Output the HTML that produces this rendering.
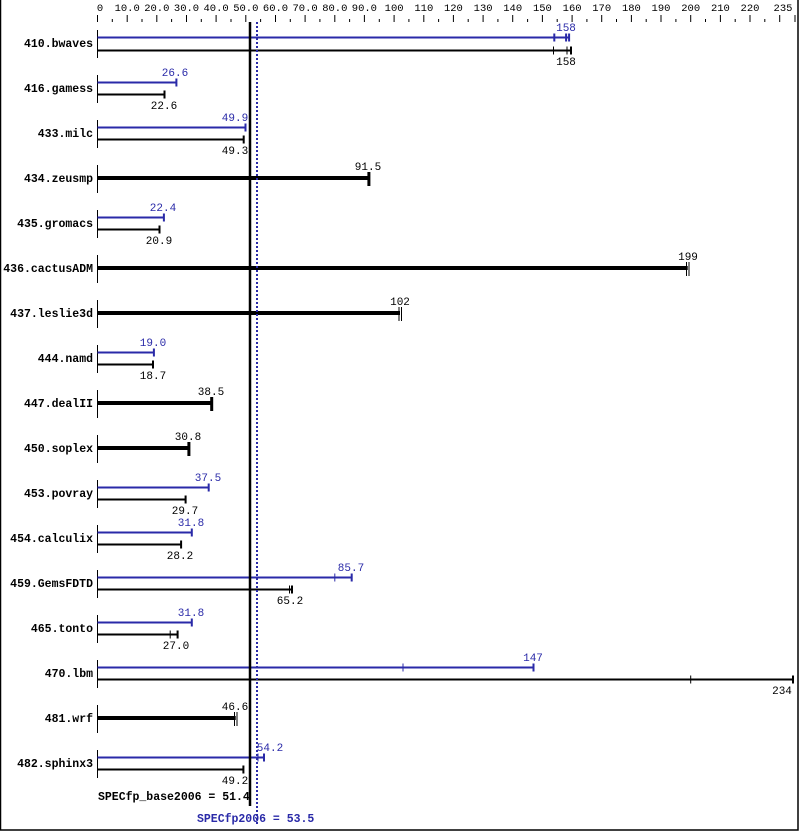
<!DOCTYPE html>
<html><head><meta charset="utf-8"><style>
html,body{margin:0;padding:0;background:#fff}
svg{display:block}
text{font-family:"Liberation Mono","DejaVu Sans Mono",monospace}
.t{font-size:10.5px;fill:#000}
.l{font-size:11.5px;font-weight:bold;fill:#000;text-anchor:end}
.v{font-size:11px;fill:#000;text-anchor:middle}
.b{font-size:11px;fill:#2a2aa8;text-anchor:middle}
</style></head><body>
<svg width="799" height="831" viewBox="0 0 799 831" xmlns="http://www.w3.org/2000/svg">
<rect x="0.5" y="-1" width="797.5" height="831" fill="none" stroke="#000" stroke-width="1.5"/>
<!-- axis ticks -->
<g stroke="#000" stroke-width="1">
<path d="M97.5 15V22M127.2 15V22M156.8 15V22M186.5 15V22M216.1 15V22M245.8 15V22M275.5 15V22M305.1 15V22M334.8 15V22M364.4 15V22M394.1 15V22M423.8 15V22M453.4 15V22M483.1 15V22M512.7 15V22M542.4 15V22M572.1 15V22M601.7 15V22M631.4 15V22M661 15V22M690.7 15V22M720.4 15V22M750 15V22M779.7 15V22M795 15V22"/>
<path d="M112.3 19V22M142 19V22M171.6 19V22M201.3 19V22M231 19V22M260.6 19V22M290.3 19V22M319.9 19V22M349.6 19V22M379.3 19V22M408.9 19V22M438.6 19V22M468.2 19V22M497.9 19V22M527.6 19V22M557.2 19V22M586.9 19V22M616.5 19V22M646.2 19V22M675.9 19V22M705.5 19V22M735.2 19V22M764.8 19V22"/>
</g>
<g class="t" text-anchor="middle">
<text x="100" y="11">0</text><text x="127.2" y="11">10.0</text><text x="156.8" y="11">20.0</text><text x="186.5" y="11">30.0</text><text x="216.1" y="11">40.0</text><text x="245.8" y="11">50.0</text><text x="275.5" y="11">60.0</text><text x="305.1" y="11">70.0</text><text x="334.8" y="11">80.0</text><text x="364.4" y="11">90.0</text><text x="394.1" y="11">100</text><text x="423.8" y="11">110</text><text x="453.4" y="11">120</text><text x="483.1" y="11">130</text><text x="512.7" y="11">140</text><text x="542.4" y="11">150</text><text x="572.1" y="11">160</text><text x="601.7" y="11">170</text><text x="631.4" y="11">180</text><text x="661" y="11">190</text><text x="690.7" y="11">200</text><text x="720.4" y="11">210</text><text x="750" y="11">220</text><text x="783" y="11">235</text>
</g>
<!-- left ticks -->
<g stroke="#000" stroke-width="1">
<path d="M97.5 30V58M97.5 75V103M97.5 120V148M97.5 165V193M97.5 210V238M97.5 255V283M97.5 300V328M97.5 345V373M97.5 390V418M97.5 435V463M97.5 480V508M97.5 525V553M97.5 570V598M97.5 615V643M97.5 660V688M97.5 705V733M97.5 750V778"/>
</g>
<!-- labels -->
<g class="l">
<text x="93" y="47">410.bwaves</text><text x="93" y="92">416.gamess</text><text x="93" y="137">433.milc</text><text x="93" y="182">434.zeusmp</text><text x="93" y="227">435.gromacs</text><text x="93" y="272">436.cactusADM</text><text x="93" y="317">437.leslie3d</text><text x="93" y="362">444.namd</text><text x="93" y="407">447.dealII</text><text x="93" y="452">450.soplex</text><text x="93" y="497">453.povray</text><text x="93" y="542">454.calculix</text><text x="93" y="587">459.GemsFDTD</text><text x="93" y="632">465.tonto</text><text x="93" y="677">470.lbm</text><text x="93" y="722">481.wrf</text><text x="93" y="767">482.sphinx3</text>
</g>
<!-- blue (peak) bars -->
<g stroke="#2a2aa8" stroke-width="2" fill="none">
<path d="M97.5 37.5H569M554.3 33.5V41.5M566.1 33.5V41.5M569.1 33.5V41.5"/>
<path d="M97.5 82.5H176.4M176.4 78.5V86.5"/>
<path d="M97.5 127.5H245.5M245.5 123.5V131.5"/>
<path d="M97.5 217.5H163.9M163.9 213.5V221.5"/>
<path d="M97.5 352.5H153.9M153.9 348.5V356.5"/>
<path d="M97.5 487.5H208.7M208.7 483.5V491.5"/>
<path d="M97.5 532.5H191.8M191.8 528.5V536.5"/>
<path d="M97.5 577.5H351.7M351.7 573.5V581.5"/>
<path d="M97.5 622.5H191.8M191.8 618.5V626.5"/>
<path d="M97.5 667.5H533.5M533.5 663.5V671.5"/>
<path d="M97.5 757.5H264M264 753.5V761.5"/>
</g>
<g stroke="#2a2aa8" stroke-width="1">
<path d="M334.8 573.5V581.5M403 663.5V671.5M258 753.5V761.5"/>
</g>
<!-- black (base) bars -->
<g stroke="#000" stroke-width="2" fill="none">
<path d="M97.5 50.5H571M571 46.5V54.5"/>
<path d="M97.5 94.5H164.5M164.5 90.5V98.5"/>
<path d="M97.5 139.5H243.7M243.7 135.5V143.5"/>
<path d="M97.5 229.5H159.5M159.5 225.5V233.5"/>
<path d="M97.5 364.5H153M153 360.5V368.5"/>
<path d="M97.5 499.5H185.6M185.6 495.5V503.5"/>
<path d="M97.5 544.5H181.1M181.1 540.5V548.5"/>
<path d="M97.5 589.5H292M292 585.5V593.5"/>
<path d="M97.5 634.5H177.6M177.6 630.5V638.5"/>
<path d="M97.5 679.5H793M793 675.5V683.5"/>
<path d="M97.5 769.5H243.4M243.4 765.5V773.5"/>
</g>
<g stroke="#000" stroke-width="1">
<path d="M553.5 46.5V54.5M567 46.5V54.5M289.5 585.5V593.5M170.2 630.5V638.5M690.7 675.5V683.5"/>
</g>
<!-- single thick bars -->
<g stroke="#000" fill="none">
<path stroke-width="4" d="M97.5 178H368.9M97.5 268H687.7M97.5 313H400M97.5 403H211.7M97.5 448H188.9M97.5 718H235.7"/>
<path stroke-width="3" d="M368.9 172V186M211.7 397V411M188.9 442V456"/>
<path stroke-width="1" d="M686.5 262V276M689 262V276M399 307V321M401.5 307V321M234.5 712V726M237 712V726"/>
</g>
<!-- value labels -->
<g class="b">
<text x="566" y="31">158</text><text x="175" y="76">26.6</text><text x="235" y="121">49.9</text><text x="163" y="211">22.4</text><text x="153" y="346">19.0</text><text x="208" y="481">37.5</text><text x="191" y="526">31.8</text><text x="351" y="571">85.7</text><text x="191" y="616">31.8</text><text x="533" y="661">147</text><text x="270" y="751">54.2</text>
</g>
<g class="v">
<text x="566" y="65">158</text><text x="164" y="109">22.6</text><text x="235" y="154">49.3</text><text x="368" y="170">91.5</text><text x="159" y="244">20.9</text><text x="688" y="260">199</text><text x="400" y="305">102</text><text x="153" y="379">18.7</text><text x="211" y="395">38.5</text><text x="188" y="440">30.8</text><text x="185" y="514">29.7</text><text x="180" y="559">28.2</text><text x="290" y="604">65.2</text><text x="176" y="649">27.0</text><text x="782" y="694">234</text><text x="235" y="710">46.6</text><text x="235" y="784">49.2</text>
</g>
<!-- reference lines -->
<path d="M250 22V806" stroke="#000" stroke-width="2.5"/>
<path d="M257 22V825" stroke="#2a2aa8" stroke-width="2" stroke-dasharray="2,2"/>
<text x="98" y="800" style="font-size:11.5px;font-weight:bold;fill:#000">SPECfp_base2006 = 51.4</text>
<text x="197" y="822" style="font-size:11.5px;font-weight:bold;fill:#2a2aa8">SPECfp2006 = 53.5</text>
</svg>
</body></html>
